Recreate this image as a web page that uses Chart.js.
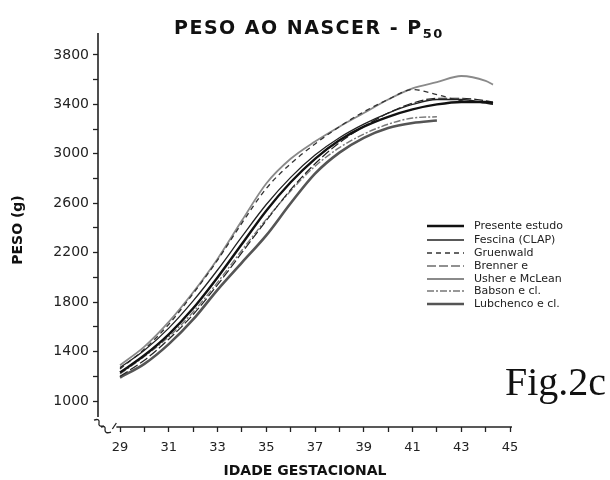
<!DOCTYPE html>
<html>
<head>
<meta charset="utf-8">
<script src="https://cdn.jsdelivr.net/npm/chart.js@4"></script>
<style>
html,body{margin:0;padding:0;background:#fff;}
#wrap{width:610px;height:480px;position:relative;}
</style>
</head>
<body>
<div id="wrap"><canvas id="c" width="610" height="480"></canvas></div>
<script>
// ---- data ----
const weeks = [29,30,31,32,33,34,35,36,37,38,39,40,41,42,43,44,44.3];
const presenteEstudo = [1230,1370,1540,1750,2000,2270,2540,2770,2960,3110,3220,3300,3360,3400,3420,3420,3410];
const fescina        = [1270,1410,1590,1810,2060,2330,2590,2810,2990,3130,3240,3330,3400,3440,3440,3410,3400];
const gruenwald      = [1260,1420,1620,1870,2140,2440,2720,2920,3080,3220,3340,3440,3520,3480,3430,3420,3420];
const brenner        = [1200,1330,1500,1700,1940,2200,2460,2710,2920,3090,3220,3330,3410,3450,3450,3430,3420];
const usherMcLean    = [1290,1440,1640,1880,2150,2460,2760,2960,3100,3220,3330,3440,3530,3580,3630,3590,3560];
const babson         = [1220,1360,1520,1720,1960,2220,2470,2700,2900,3050,3160,3240,3290,3300];
const lubchenco      = [1190,1300,1460,1660,1900,2120,2340,2600,2840,3010,3130,3210,3250,3270];
const seriesNames = ['Presente estudo','Fescina (CLAP)','Gruenwald','Brenner e','Usher e McLean','Babson e cl.','Lubchenco e cl.'];
const xTickLabels = [29,31,33,35,37,39,41,43,45];
const xMinorTicks = [30,32,34,36,38,40,42,44];
const yTickLabels = [1000,1400,1800,2200,2600,3000,3400,3800];
const yMinorTicks = [1200,1600,2000,2400,2800,3200,3600];

function pts(vals){ return vals.map((v,i)=>({x:weeks[i], y:v})); }

const styles = [
  {color:'#111', width:2.4, dash:[]},
  {color:'#222', width:1.3, dash:[]},
  {color:'#333', width:1.3, dash:[5,4]},
  {color:'#222', width:1.2, dash:[9,3]},
  {color:'#8a8a8a', width:1.8, dash:[]},
  {color:'#777', width:1.4, dash:[7,2,2,2]},
  {color:'#555', width:2.6, dash:[]}
];
const allVals = [presenteEstudo,fescina,gruenwald,brenner,usherMcLean,babson,lubchenco];
const datasets = allVals.map((vals,i)=>({
  label: seriesNames[i],
  data: pts(vals),
  borderColor: styles[i].color,
  borderWidth: styles[i].width,
  borderDash: styles[i].dash,
  pointRadius: 0,
  fill: false,
  cubicInterpolationMode: 'monotone'
}));

const FONT = 'DejaVu Sans';

function buildTicks(major, minor){
  return major.concat(minor).sort((a,b)=>a-b).map(v=>({value:v}));
}

const decor = {
  id:'decor',
  afterDraw(chart){
    const ctx = chart.ctx;
    const xs = chart.scales.x, ys = chart.scales.y;
    const ca = chart.chartArea;
    ctx.save();
    ctx.strokeStyle = '#222';
    ctx.lineWidth = 1.6;
    ctx.setLineDash([]);
    // y axis line (broken near the bottom)
    const by = ys.getPixelForValue(870);
    ctx.beginPath();
    ctx.moveTo(ca.left, ca.top);
    ctx.lineTo(ca.left, by);
    ctx.stroke();
    // x axis line
    const sx = xs.getPixelForValue(28.85);
    ctx.beginPath();
    ctx.moveTo(sx, ca.bottom);
    ctx.lineTo(ca.right, ca.bottom);
    ctx.stroke();
    // break marks
    ctx.lineWidth = 1.3;
    const bx = ca.left;
    ctx.beginPath();
    ctx.moveTo(bx-4, by+3); ctx.quadraticCurveTo(bx+2, by+1, bx+1, by+6); ctx.quadraticCurveTo(bx, by+10, bx+6, by+9);
    ctx.stroke();
    ctx.beginPath();
    ctx.moveTo(bx+3, by+10); ctx.quadraticCurveTo(bx+8, by+8, bx+7, by+13); ctx.quadraticCurveTo(bx+7, by+17, bx+13, by+15);
    ctx.stroke();
    ctx.beginPath();
    ctx.moveTo(sx-4, ca.bottom+2); ctx.lineTo(sx, ca.bottom-4);
    ctx.stroke();

    // title
    ctx.fillStyle = '#111';
    ctx.textBaseline = 'alphabetic';
    ctx.textAlign = 'left';
    ctx.font = 'bold 19px ' + FONT;
    try { ctx.letterSpacing = '1.5px'; } catch(e) {}
    const t = 'PESO AO NASCER - P';
    ctx.fillText(t, 174, 34);
    const tw = ctx.measureText(t).width;
    ctx.font = 'bold 13px ' + FONT;
    ctx.fillText('50', 174 + tw, 38);
    try { ctx.letterSpacing = '0px'; } catch(e) {}

    // legend
    const rowsY = [226,240,253,266,279,291,304];
    chart.data.datasets.forEach((ds,i)=>{
      const y = rowsY[i];
      ctx.strokeStyle = ds.borderColor;
      ctx.lineWidth = ds.borderWidth;
      ctx.setLineDash(ds.borderDash || []);
      ctx.beginPath(); ctx.moveTo(427,y); ctx.lineTo(464,y); ctx.stroke();
      ctx.setLineDash([]);
      ctx.fillStyle = '#222';
      ctx.font = '11px ' + FONT;
      ctx.textBaseline = 'middle';
      ctx.fillText(ds.label, 474, y);
    });

    // figure tag
    ctx.fillStyle = '#111';
    ctx.font = '40px "Liberation Serif"';
    ctx.textBaseline = 'alphabetic';
    ctx.fillText('Fig.2c', 505, 395);
    ctx.restore();
  }
};

new Chart(document.getElementById('c'), {
  type:'line',
  data:{datasets},
  options:{
    responsive:false,
    animation:false,
    layout:{padding:{top:33,right:98,left:0,bottom:0}},
    plugins:{legend:{display:false}, title:{display:false}, tooltip:{enabled:false}},
    scales:{
      x:{
        type:'linear', min:28.097, max:45.08,
        afterFit(s){ s.height = 53; },
        afterBuildTicks(s){ s.ticks = buildTicks(xTickLabels, xMinorTicks); },
        border:{display:false},
        grid:{drawOnChartArea:false, tickLength:5, tickWidth:1.3, tickColor:'#222'},
        ticks:{autoSkip:false, maxRotation:0, padding:8,
               color:'#222', font:{family:FONT, size:13},
               callback:(v)=> xTickLabels.includes(v) ? String(v) : ''},
        title:{display:true, text:'IDADE GESTACIONAL', color:'#111',
               font:{family:FONT, size:14, weight:'bold'}, padding:{top:4,bottom:0}}
      },
      y:{
        type:'linear', min:789.6, max:3978,
        afterFit(s){ s.width = 98; },
        afterBuildTicks(s){ s.ticks = buildTicks(yTickLabels, yMinorTicks); },
        border:{display:false},
        grid:{drawOnChartArea:false, tickLength:5, tickWidth:1.3, tickColor:'#222'},
        ticks:{autoSkip:false, padding:4,
               color:'#222', font:{family:FONT, size:14},
               callback:(v)=> yTickLabels.includes(v) ? String(v) : ''},
        title:{display:true, text:'PESO (g)', color:'#111',
               font:{family:FONT, size:14, weight:'bold'}, padding:{top:10,bottom:0}}
      }
    }
  },
  plugins:[decor]
});
</script>
</body>
</html>
